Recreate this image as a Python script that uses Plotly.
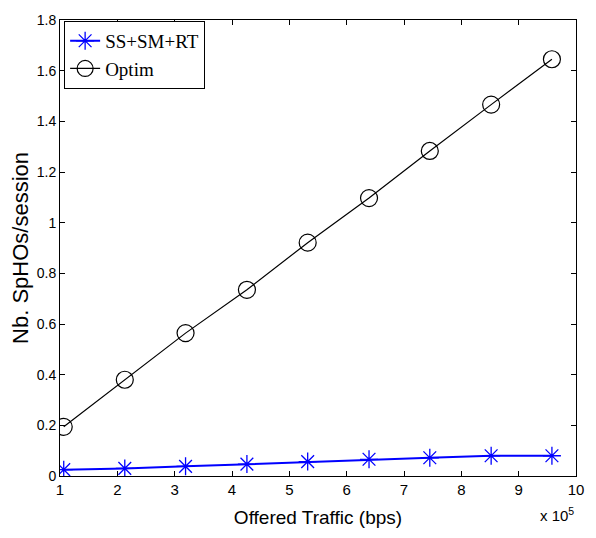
import plotly.graph_objects as go

offered_traffic = [1.065e5, 2.13e5, 3.19e5, 4.26e5, 5.32e5, 6.39e5, 7.45e5, 8.52e5, 9.58e5]
ss_sm_rt = [0.025, 0.030, 0.038, 0.047, 0.057, 0.066, 0.072, 0.080, 0.080]
optim = [0.194, 0.380, 0.564, 0.735, 0.921, 1.097, 1.283, 1.466, 1.645]

x_tickvals = [1e5, 2e5, 3e5, 4e5, 5e5, 6e5, 7e5, 8e5, 9e5, 10e5]
x_ticktext = ["1", "2", "3", "4", "5", "6", "7", "8", "9", "10"]
y_tickvals = [0, 0.2, 0.4, 0.6, 0.8, 1.0, 1.2, 1.4, 1.6, 1.8]
y_ticktext = ["0", "0.2", "0.4", "0.6", "0.8", "1", "1.2", "1.4", "1.6", "1.8"]

SANS = "Liberation Sans, Arial, sans-serif"
SERIF = "Liberation Serif, Times New Roman, serif"

fig = go.Figure()
fig.add_trace(go.Scatter(
    x=offered_traffic, y=ss_sm_rt, name="SS+SM+RT", mode="lines+markers",
    line=dict(color="#0000ff", width=2),
    marker=dict(symbol="asterisk-open", size=15, color="#0000ff", line=dict(color="#0000ff", width=1.3)),
))
fig.add_trace(go.Scatter(
    x=offered_traffic, y=optim, name="Optim", mode="lines+markers",
    line=dict(color="black", width=1.2),
    marker=dict(symbol="circle-open", size=17, color="black", line=dict(color="black", width=1.2)),
))

fig.update_layout(
    width=596, height=538,
    margin=dict(l=60, r=18, t=13, b=62),
    paper_bgcolor="white", plot_bgcolor="white",
    showlegend=True,
    legend=dict(x=0.008, y=0.998, xanchor="left", yanchor="top",
                bordercolor="black", borderwidth=1, bgcolor="white",
                font=dict(family=SERIF, size=19, color="black"),
                tracegroupgap=0, itemwidth=30),
    xaxis=dict(range=[1e5, 10e5], tickvals=x_tickvals, ticktext=x_ticktext,
               ticks="inside", ticklen=5, tickcolor="black", mirror="ticks",
               showline=True, linecolor="black", linewidth=1, showgrid=False, zeroline=False,
               tickfont=dict(family=SANS, size=15, color="black"),
               title=dict(text="Offered Traffic (bps)", font=dict(family=SANS, size=19, color="black"), standoff=13)),
    yaxis=dict(range=[0, 1.8], tickvals=y_tickvals, ticktext=y_ticktext,
               ticks="inside", ticklen=5, tickcolor="black", mirror="ticks",
               showline=True, linecolor="black", linewidth=1, showgrid=False, zeroline=False,
               tickfont=dict(family=SANS, size=14, color="black"),
               title=dict(text="Nb. SpHOs/session", font=dict(family=SANS, size=22, color="black"), standoff=2)),
    annotations=[dict(text="x 10<sup>5</sup>", xref="paper", yref="paper", x=1.0, y=-0.06,
                      xanchor="right", yanchor="top", showarrow=False,
                      font=dict(family=SANS, size=15, color="black"))],
)
fig.write_html("out.html")
